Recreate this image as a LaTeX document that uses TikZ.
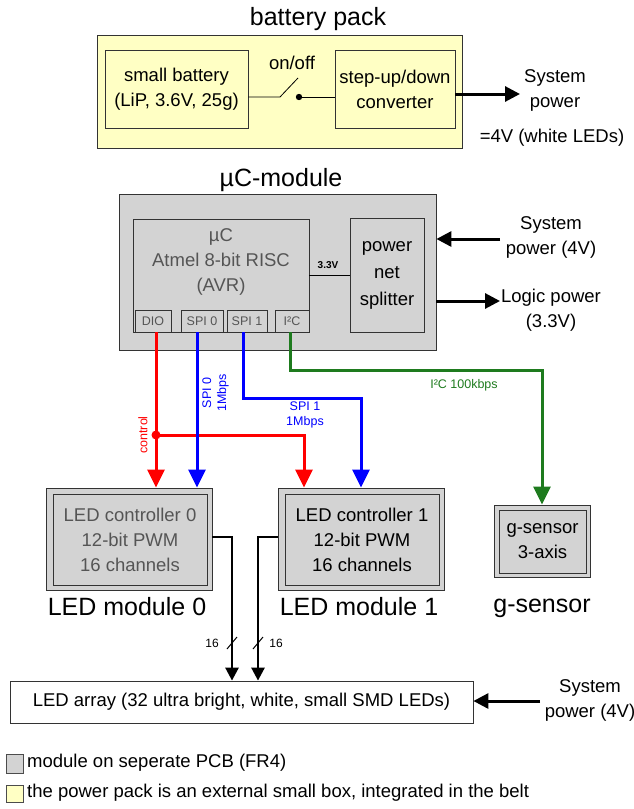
\documentclass[tikz,border=0pt]{standalone}
\usepackage{fontspec}
\setmainfont{Liberation Sans}
\usetikzlibrary{arrows.meta}
\definecolor{pcb}{HTML}{D3D3D3}
\definecolor{pack}{HTML}{FFFFC4}
\definecolor{sigred}{HTML}{FF0000}
\definecolor{sigblue}{HTML}{0000FF}
\definecolor{siggreen}{HTML}{1E7B1E}
\definecolor{dimtext}{HTML}{555555}
\begin{document}
\begin{tikzpicture}[x=1pt,y=-1pt,
  box/.style={draw=black!80, line width=0.8pt, inner sep=0pt, align=center},
  body/.style={font=\fontsize{18.5}{25}\selectfont, inner sep=1pt, align=center},
  titletext/.style={font=\fontsize{25}{30}\selectfont, inner sep=1pt},
  smalltext/.style={font=\fontsize{12.5}{15}\selectfont, inner sep=1pt, align=center},
  porttext/.style={font=\fontsize{12.5}{15}\selectfont, text=dimtext},
  sig/.style={line width=3pt, -{Triangle[width=17pt,length=18pt]}},
  pow/.style={line width=3pt, -{Triangle[width=15pt,length=15pt]}},
  bus/.style={line width=2.7pt, -{Triangle[width=13pt,length=13pt]}},
]
\useasboundingbox (0,0) rectangle (634,809);

% ---------------- battery pack ----------------
\node[titletext] (tpack) at (318,19) {battery pack};
\node[box, fill=pack, minimum width=365, minimum height=113] (pack) at (279.5,91.5) {};
\node[box, body, minimum width=143, minimum height=78] (batt) at (176.5,89) {small battery\\(LiP, 3.6V, 25g)};
\node[box, body, minimum width=120, minimum height=78] (conv) at (395,89) {step-up/down\\converter};
\coordinate (s1) at (280,97);
\coordinate (s2) at (298,78);
\coordinate (sd) at (299,97);
\draw[line width=0.8pt] (batt.east |- s1) -- (s1) -- (s2);
\fill (sd) circle (3.2);
\draw[line width=0.8pt] (sd) -- (conv.west |- sd);
\node[body] (onoff) at (292,63) {on/off};
\node[body] (sp1) at (555,90) {System\\power};
\coordinate (sp1a) at (520,94);
\draw[pow] (conv.east |- sp1a) -- (sp1a);
\node[body] (eq4) at (552,138) {=4V (white LEDs)};

% ---------------- uC module ----------------
\node[titletext] (tuc) at (281,180) {µC-module};
\node[box, fill=pcb, minimum width=317, minimum height=156] (ucm) at (277.5,272) {};
\node[box, minimum width=176, minimum height=113] (uc) at (221,275.5) {};
\node[body, text=dimtext] (uctext) at (221,262) {µC\\Atmel 8-bit RISC\\(AVR)};
\node[box, porttext, minimum width=36, minimum height=22] (dio) at (153,321) {DIO};
\node[box, porttext, minimum width=42, minimum height=22] (spi0) at (202,321) {SPI 0};
\node[box, porttext, minimum width=40, minimum height=22] (spi1) at (247,321) {SPI 1};
\node[box, porttext, minimum width=34, minimum height=22] (i2c) at (292,321) {I²C};
\node[box, font=\fontsize{18.5}{27}\selectfont, minimum width=74, minimum height=114] (split) at (387,275) {power\\net\\splitter};
\draw[line width=0.8pt] (uc.east) -- (uc.east -| split.west);
\node[font=\bfseries\fontsize{10}{12}\selectfont, inner sep=1pt] (v33) at (328,265) {3.3V};

\node[body] (sp2) at (551,237.5) {System\\power (4V)};
\coordinate (sp2a) at (500,239);
\draw[pow] (sp2a) -- (ucm.east |- sp2a);
\node[body] (lp) at (551,310) {Logic power\\(3.3V)};
\coordinate (lpa) at (500,301);
\draw[pow] (ucm.east |- lpa) -- (lpa);

% ---------------- LED modules ----------------
\node[box, fill=pcb, minimum width=166, minimum height=102] (c0) at (129,539) {};
\node[box, body, fill=pcb, text=dimtext, minimum width=154, minimum height=91] (c0i) at (130,539.5) {LED controller 0\\12-bit PWM\\16 channels};
\node[titletext] (lm0) at (127,607) {LED module 0};

\node[box, fill=pcb, minimum width=166, minimum height=102] (c1) at (361,539) {};
\node[box, body, fill=pcb, minimum width=154, minimum height=91] (c1i) at (362,539.5) {LED controller 1\\12-bit PWM\\16 channels};
\node[titletext] (lm1) at (359,607) {LED module 1};

\node[box, fill=pcb, minimum width=96, minimum height=72] (gs) at (542,541) {};
\node[box, body, fill=pcb, minimum width=87, minimum height=63] (gsi) at (542.5,541.5) {g-sensor\\3-axis};
\node[titletext] (lgs) at (542,608) {g-sensor};

% ---------------- signal lines ----------------
\draw[sig, sigred] ([xshift=3pt]dio.south) -- ([xshift=3pt]dio.south |- c0.north);
\coordinate (jn) at (156,435);
\fill[sigred] (jn) circle (4.5);
\draw[sig, sigred] (jn) -| ([xshift=-57pt]c1.north);
\node[smalltext, text=sigred, rotate=90] (lctl) at (143,435) {control};

\draw[sig, sigblue] ([xshift=-5pt]spi0.south) -- ([xshift=-5pt]spi0.south |- c0.north);
\node[smalltext, text=sigblue, rotate=90] (lspi0) at (215.5,393) {SPI 0\\1Mbps};

\coordinate (b1) at (361,398);
\draw[sig, sigblue] ([xshift=-4pt]spi1.south) |- (b1) -- (c1.north);
\node[smalltext, text=sigblue] (lspi1) at (305,415) {SPI 1\\1Mbps};

\coordinate (g1) at (542,370);
\draw[sig, siggreen] ([xshift=-2pt]i2c.south) |- (g1) -- (gs.north);
\node[smalltext, text=siggreen] (li2c) at (464,385) {I²C 100kbps};

% ---------------- LED array ----------------
\node[box, body, minimum width=463, minimum height=42] (arr) at (241.5,702) {LED array (32 ultra bright, white, small SMD LEDs)};
\coordinate (k0) at (232,537);
\coordinate (k1) at (258,537);
\draw[bus] (c0.east |- k0) -- (k0) -- (k0 |- arr.north);
\draw[bus] (c1.west |- k1) -- (k1) -- (k1 |- arr.north);
\draw[line width=1pt] (227,649) -- (237,637);
\draw[line width=1pt] (253,649) -- (263,637);
\node[smalltext, font=\fontsize{12}{14}\selectfont] (n16a) at (212,643) {16};
\node[smalltext, font=\fontsize{12}{14}\selectfont] (n16b) at (276,643) {16};

\node[body] (sp3) at (590,700) {System\\power (4V)};
\coordinate (sp3a) at (540,701);
\draw[pow] (sp3a) -- (arr.east |- sp3a);

% ---------------- legend ----------------
\node[draw=black!70, fill=pcb, minimum width=17, minimum height=19, inner sep=0pt] (lg1) at (14.5,763.5) {};
\node[body, anchor=west] (lt1) at (26,763) {module on seperate PCB (FR4)};
\node[draw=black!70, fill=pack, minimum width=17, minimum height=17, inner sep=0pt] (lg2) at (14.5,793.5) {};
\node[body, anchor=west] (lt2) at (26,793) {the power pack is an external small box, integrated in the belt};
\end{tikzpicture}
\end{document}
